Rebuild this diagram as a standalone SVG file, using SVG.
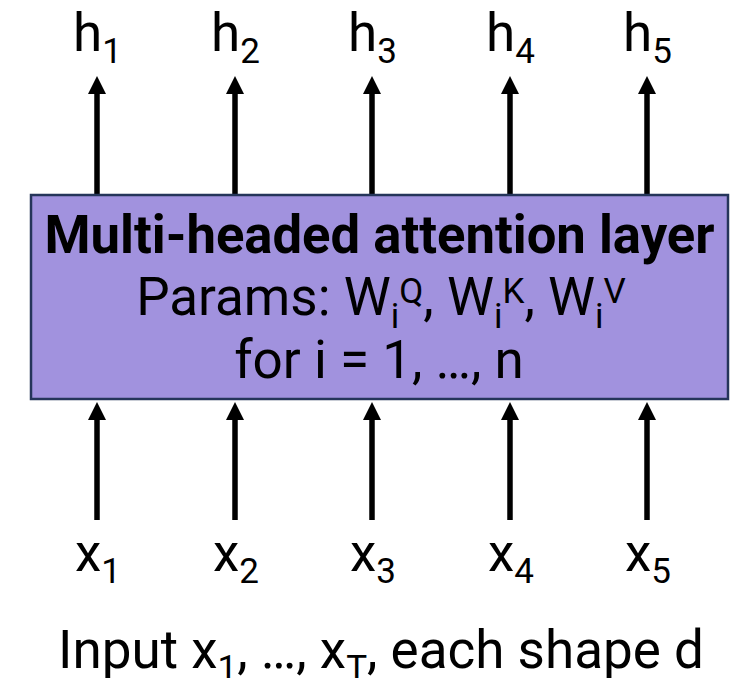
<svg xmlns="http://www.w3.org/2000/svg" width="731" height="678" viewBox="0 0 731 678">
  <style>
    .lbl { font-family: Roboto, "Liberation Sans", sans-serif; font-size: 53px; fill: #000; }
    .sub { font-size: 35px; }
    .title { font-family: Roboto, "Liberation Sans", sans-serif; font-size: 53px; font-weight: bold; fill: #000; }
    .conn { stroke: #000; stroke-width: 5.5; fill: none; marker-end: url(#ah); }
    .box { fill: #a192de; stroke: #25355a; stroke-width: 2.5; }
  </style>
  <defs>
    <marker id="ah" viewBox="0 0 18 18" markerWidth="18" markerHeight="18" markerUnits="userSpaceOnUse" refX="0" refY="9" orient="auto">
      <path d="M0,0 L18,9 L0,18 z" fill="#000"/>
    </marker>
  </defs>

  <g id="connectors">
    <line class="conn" x1="97" y1="195" x2="97" y2="94"/>
    <line class="conn" x1="235" y1="195" x2="235" y2="94"/>
    <line class="conn" x1="372" y1="195" x2="372" y2="94"/>
    <line class="conn" x1="510" y1="195" x2="510" y2="94"/>
    <line class="conn" x1="647" y1="195" x2="647" y2="94"/>
    <line class="conn" x1="97" y1="520" x2="97" y2="420"/>
    <line class="conn" x1="235" y1="520" x2="235" y2="420"/>
    <line class="conn" x1="372" y1="520" x2="372" y2="420"/>
    <line class="conn" x1="510" y1="520" x2="510" y2="420"/>
    <line class="conn" x1="647" y1="520" x2="647" y2="420"/>
  </g>

  <g id="attention-layer">
    <rect class="box" x="31" y="195" width="697" height="204"/>
    <text class="title" x="379.5" y="253" text-anchor="middle" textLength="670" lengthAdjust="spacingAndGlyphs">Multi-headed attention layer</text>
    <text class="lbl" x="381" y="315" text-anchor="middle">Params: W<tspan class="sub" dy="13">i</tspan><tspan class="sub" dy="-25">Q</tspan><tspan dy="12">, W</tspan><tspan class="sub" dy="13">i</tspan><tspan class="sub" dy="-25">K</tspan><tspan dy="12">, W</tspan><tspan class="sub" dy="13">i</tspan><tspan class="sub" dy="-25">V</tspan></text>
    <text class="lbl" x="379" y="378" text-anchor="middle">for i = 1, …, n</text>
  </g>

  <g id="h1"><text class="lbl" x="73" y="51">h<tspan class="sub" dy="12">1</tspan></text></g>
  <g id="h2"><text class="lbl" x="211" y="51">h<tspan class="sub" dy="12">2</tspan></text></g>
  <g id="h3"><text class="lbl" x="348" y="51">h<tspan class="sub" dy="12">3</tspan></text></g>
  <g id="h4"><text class="lbl" x="486" y="51">h<tspan class="sub" dy="12">4</tspan></text></g>
  <g id="h5"><text class="lbl" x="623" y="51">h<tspan class="sub" dy="12">5</tspan></text></g>

  <g id="x1"><text class="lbl" x="75" y="571">x<tspan class="sub" dy="12">1</tspan></text></g>
  <g id="x2"><text class="lbl" x="213" y="571">x<tspan class="sub" dy="12">2</tspan></text></g>
  <g id="x3"><text class="lbl" x="350" y="571">x<tspan class="sub" dy="12">3</tspan></text></g>
  <g id="x4"><text class="lbl" x="488" y="571">x<tspan class="sub" dy="12">4</tspan></text></g>
  <g id="x5"><text class="lbl" x="625" y="571">x<tspan class="sub" dy="12">5</tspan></text></g>

  <g id="caption">
    <text class="lbl" x="381" y="668" text-anchor="middle">Input x<tspan class="sub" dy="12">1</tspan><tspan dy="-12">, …, x</tspan><tspan class="sub" dy="12">T</tspan><tspan dy="-12">, each shape d</tspan></text>
  </g>
</svg>
